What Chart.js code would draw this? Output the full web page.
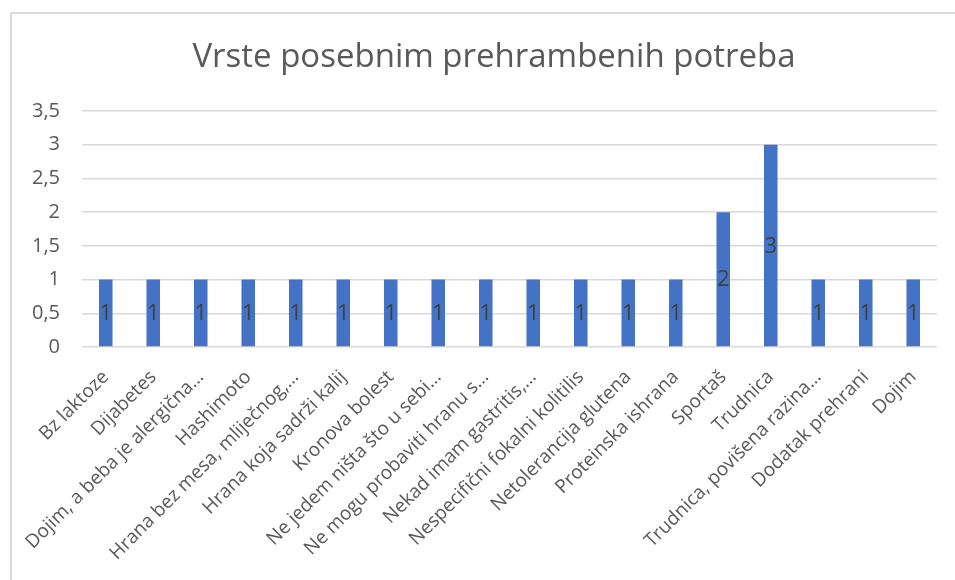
<!DOCTYPE html>
<html>
<head>
<meta charset="utf-8">
<script src="https://cdn.jsdelivr.net/npm/chart.js@4.4.0/dist/chart.umd.min.js"></script>
<style>
    body { margin: 0; background: #fff; }
    #frame {
        position: absolute; left: 10px; top: 12px; right: -5px; bottom: -5px;
        border-left: 2px solid #dcdcdc; border-top: 2px solid #dcdcdc;
    }
    #wrap { position: absolute; left: 0; top: 0; width: 955px; height: 580px; }
</style>
</head>
<body>
<div id="frame"></div>
<div id="wrap"><canvas id="potrebe"></canvas></div>
<script>
    // Data
    var chartTitle = "Vrste posebnim prehrambenih potreba";
    var categories = [
        "Bz laktoze",
        "Dijabetes",
        "Dojim, a beba je alergična…",
        "Hashimoto",
        "Hrana bez mesa, mliječnog,…",
        "Hrana koja sadrži kalij",
        "Kronova bolest",
        "Ne jedem ništa što u sebi…",
        "Ne mogu probaviti hranu s…",
        "Nekad imam gastritis,…",
        "Nespecifični fokalni kolitilis",
        "Netolerancija glutena",
        "Proteinska ishrana",
        "Sportaš",
        "Trudnica",
        "Trudnica, povišena razina…",
        "Dodatak prehrani",
        "Dojim"
    ];
    var counts = [1, 1, 1, 1, 1, 1, 1, 1, 1, 1, 1, 1, 1, 2, 3, 1, 1, 1];
    var yTicks = [0, 0.5, 1, 1.5, 2, 2.5, 3, 3.5];

    var gray = "#595959";
    var font = "'Open Sans', 'Noto Sans', sans-serif";

    // value labels in the middle of each bar
    var barLabels = {
        id: "barLabels",
        afterDatasetsDraw: function (chart) {
            var ctx = chart.ctx;
            var meta = chart.getDatasetMeta(0);
            ctx.save();
            ctx.font = "22px " + font;
            ctx.fillStyle = "#404040";
            ctx.textAlign = "center";
            ctx.textBaseline = "middle";
            meta.data.forEach(function (bar, i) {
                ctx.fillText(String(counts[i]), bar.x, (bar.y + bar.base) / 2 + 1);
            });
            ctx.restore();
        }
    };

    // title sits centred on the (wider) chart frame, not on the canvas
    var frameTitle = {
        id: "frameTitle",
        afterDraw: function (chart) {
            var ctx = chart.ctx;
            ctx.save();
            ctx.font = "33px " + font;
            ctx.fillStyle = gray;
            ctx.textAlign = "center";
            ctx.textBaseline = "alphabetic";
            ctx.fillText(chartTitle, 494, 67);
            ctx.restore();
        }
    };

    var ctx = document.getElementById("potrebe").getContext("2d");
    var myChart = new Chart(ctx, {
        type: "bar",
        data: {
            labels: categories,
            datasets: [{
                data: counts,
                backgroundColor: "#4472c4",
                barPercentage: 1,
                categoryPercentage: 0.285
            }]
        },
        options: {
            responsive: true,
            maintainAspectRatio: false,
            animation: false,
            layout: { padding: { left: 0, right: 18, top: 111, bottom: 0 } },
            plugins: {
                legend: { display: false },
                tooltip: { enabled: false },
                title: { display: false }
            },
            scales: {
                x: {
                    grid: { display: false },
                    border: { display: false },
                    ticks: {
                        color: gray,
                        font: { family: font, size: 19 },
                        minRotation: 45,
                        maxRotation: 45,
                        autoSkip: false,
                        padding: 11
                    },
                    afterFit: function (scale) { scale.height = 233; }
                },
                y: {
                    min: 0,
                    max: 3.5,
                    afterBuildTicks: function (scale) {
                        scale.ticks = yTicks.map(function (v) { return { value: v }; });
                    },
                    grid: { color: "#d9d9d9", lineWidth: 1.5, drawTicks: false },
                    border: { display: false },
                    ticks: {
                        color: gray,
                        font: { family: font, size: 20 },
                        padding: 22,
                        callback: function (v) { return String(v).replace(".", ","); }
                    },
                    afterFit: function (scale) { scale.width = 82; }
                }
            }
        },
        plugins: [barLabels, frameTitle]
    });
</script>
</body>
</html>
